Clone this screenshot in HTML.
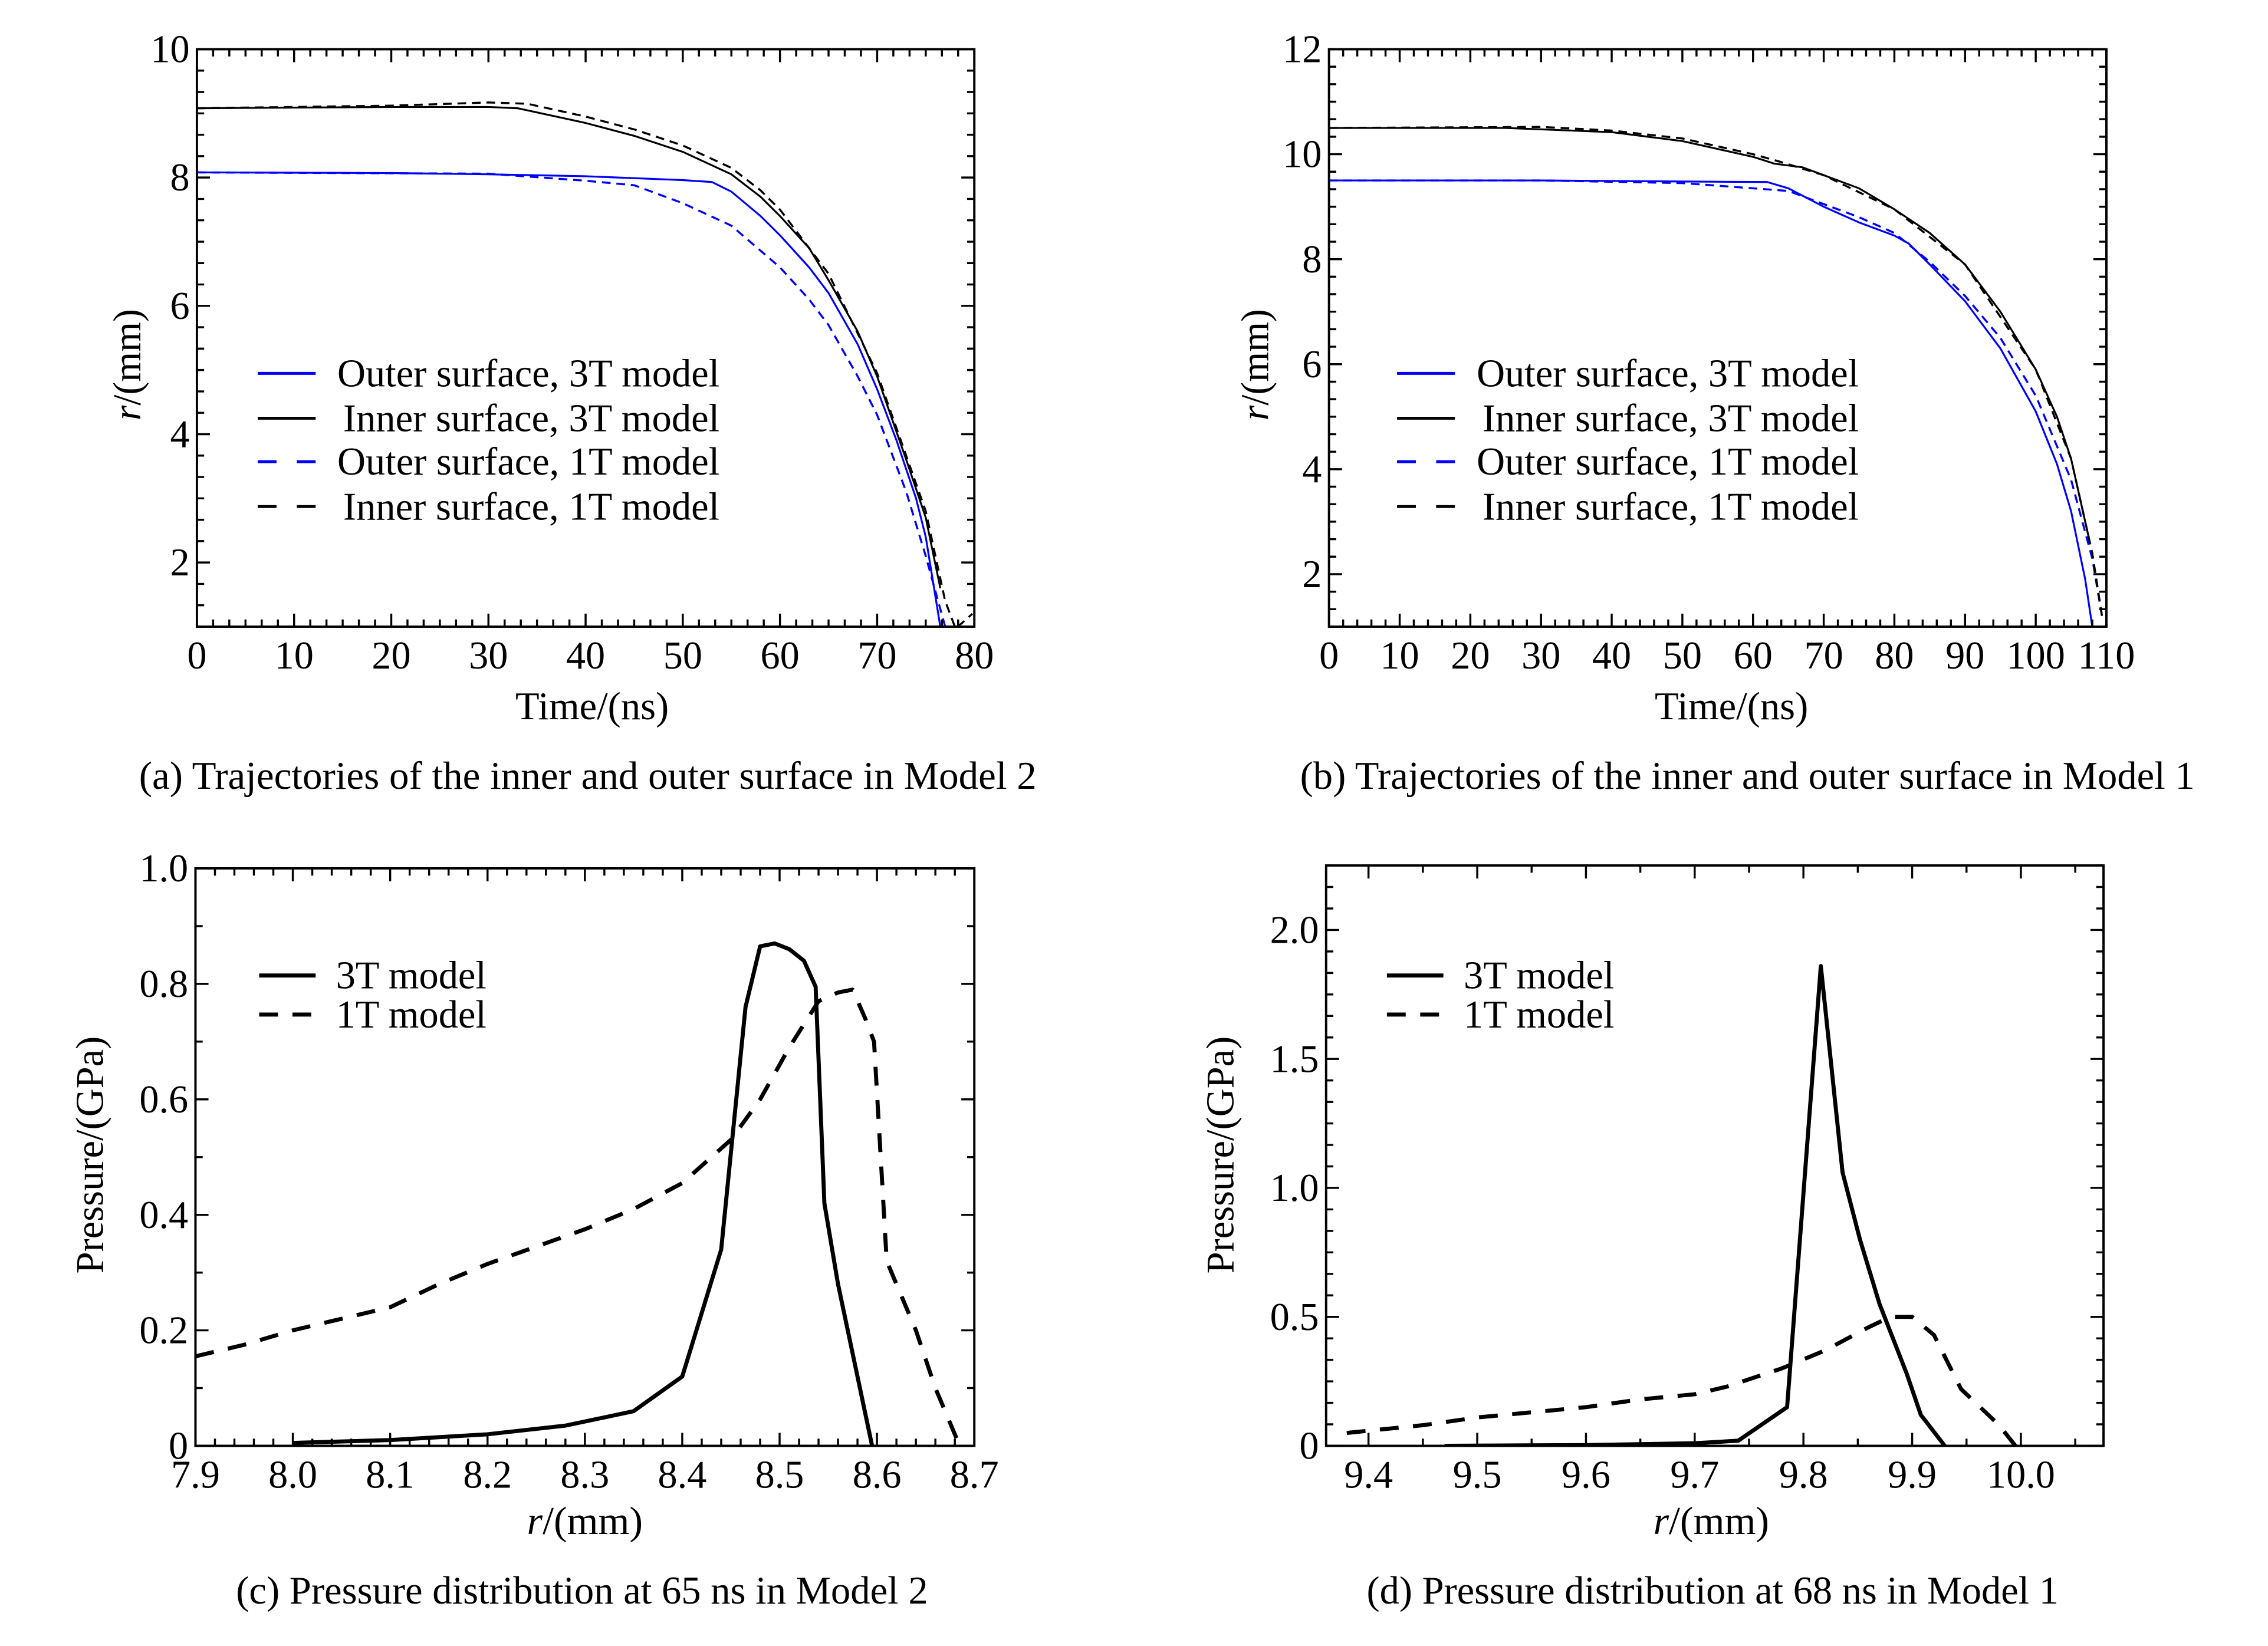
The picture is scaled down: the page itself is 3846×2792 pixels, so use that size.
<!DOCTYPE html>
<html><head><meta charset="utf-8"><style>
html,body{margin:0;padding:0;background:#fff;}
svg{display:block;}
text{font-family:"Liberation Serif","DejaVu Serif",serif;fill:#000;}
</style></head><body>
<svg id="fig" xmlns="http://www.w3.org/2000/svg" width="3846" height="2792" viewBox="0 0 1566.6 1137.3" font-family="Liberation Serif, DejaVu Serif, serif">
<rect x="0" y="0" width="1566.6" height="1137.3" fill="#fff"/>
</svg>
<script>
// ---- Panel (a) data: Model 2 trajectories ----
const aOuter3T_t = [0,20,30,40,50,53,55,58,60,63,65,68,70,72,74,75,76.5];
const aOuter3T_r = [8.08,8.07,8.05,8.02,7.96,7.93,7.78,7.4,7.1,6.6,6.2,5.4,4.7,3.9,3.0,2.4,1.0];
const aInner3T_t = [0,20,30,33,40,45,50,55,58,60,63,65,68,70,73,75,76.5];
const aInner3T_r = [9.08,9.1,9.1,9.08,8.85,8.65,8.4,8.05,7.7,7.4,6.9,6.4,5.6,4.9,3.6,2.7,1.6];
const aOuter1T_t = [0,30,40,45,50,55,60,63,65,68,70,73,75,77];
const aOuter1T_r = [8.08,8.06,7.95,7.88,7.6,7.25,6.6,6.1,5.7,4.9,4.3,3.1,2.1,1.0];
const aInner1T_t = [0,20,30,34,40,45,50,55,58,60,65,70,75,77,78];
const aInner1T_r = [9.08,9.12,9.17,9.15,8.95,8.75,8.5,8.15,7.8,7.5,6.5,4.95,2.8,1.4,1.0];
const aTail_t = [78.3,79.8];
const aTail_r = [1.0,1.2];
const aXTicks = [0,10,20,30,40,50,60,70,80];
const aYTicks = [2,4,6,8,10];

// ---- Panel (b) data: Model 1 trajectories ----
const bOuter3T_t = [0,30,50,62,65,70,75,80,82,85,90,95,100,103,105,107,108];
const bOuter3T_r = [9.5,9.5,9.48,9.47,9.35,9.0,8.7,8.45,8.3,7.9,7.2,6.3,5.1,4.1,3.2,1.9,1.0];
const bInner3T_t = [0,25,40,50,60,63,67,70,75,80,85,90,95,100,103,105,107.5];
const bInner3T_r = [10.5,10.5,10.42,10.25,9.95,9.82,9.75,9.6,9.35,8.95,8.5,7.9,7.0,5.9,5.0,4.2,2.7];
const bOuter1T_t = [0,30,50,60,65,70,75,80,85,90,95,100,105,108,109.5];
const bOuter1T_r = [9.5,9.5,9.45,9.35,9.3,9.05,8.8,8.5,7.95,7.3,6.5,5.4,3.8,2.3,1.1];
const bInner1T_t = [0,30,40,50,60,64,70,80,90,100,105,108,109.5];
const bInner1T_r = [10.5,10.52,10.45,10.3,10.0,9.85,9.6,8.95,7.9,5.9,4.2,2.4,1.1];
const bXTicks = [0,10,20,30,40,50,60,70,80,90,100,110];
const bYTicks = [2,4,6,8,10,12];

// ---- Panel (c) data: pressure at 65 ns, Model 2 ----
const c3T_r = [8.0,8.1,8.2,8.28,8.35,8.4,8.44,8.465,8.48,8.495,8.51,8.525,8.537,8.546,8.56,8.595];
const c3T_p = [0.005,0.01,0.02,0.035,0.06,0.12,0.34,0.76,0.865,0.87,0.86,0.84,0.795,0.42,0.28,0.0];
const c1T_r = [7.9,7.95,8.0,8.05,8.1,8.15,8.2,8.25,8.3,8.35,8.4,8.45,8.48,8.51,8.54,8.56,8.575,8.588,8.597,8.61,8.64,8.66,8.685];
const c1T_p = [0.155,0.175,0.2,0.22,0.24,0.28,0.315,0.345,0.375,0.41,0.455,0.53,0.6,0.69,0.77,0.785,0.79,0.74,0.7,0.32,0.2,0.1,0.0];
const cXTicks = [7.9,8.0,8.1,8.2,8.3,8.4,8.5,8.6,8.7];
const cXLabels = ["7.9","8.0","8.1","8.2","8.3","8.4","8.5","8.6","8.7"];
const cYTicks = [0,0.2,0.4,0.6,0.8,1.0];
const cYLabels = ["0","0.2","0.4","0.6","0.8","1.0"];

// ---- Panel (d) data: pressure at 68 ns, Model 1 ----
const d3T_r = [9.47,9.6,9.7,9.74,9.785,9.816,9.836,9.852,9.87,9.895,9.908,9.93];
const d3T_p = [0.0,0.003,0.01,0.02,0.15,1.86,1.06,0.8,0.55,0.28,0.12,0.0];
const d1T_r = [9.38,9.45,9.5,9.55,9.6,9.65,9.7,9.73,9.78,9.82,9.86,9.88,9.9,9.92,9.945,9.98,9.995];
const d1T_p = [0.05,0.08,0.11,0.13,0.15,0.18,0.2,0.23,0.3,0.37,0.46,0.5,0.5,0.43,0.22,0.08,0.0];
const dXTicks = [9.4,9.5,9.6,9.7,9.8,9.9,10.0];
const dXLabels = ["9.4","9.5","9.6","9.7","9.8","9.9","10.0"];
const dYTicks = [0,0.5,1.0,1.5,2.0];
const dYLabels = ["0","0.5","1.0","1.5","2.0"];

const NS = "http://www.w3.org/2000/svg";
const svg = document.getElementById('fig');
const SERIF = 'Liberation Serif, DejaVu Serif, serif';
function mk(tag, attrs, parent){
  const e = document.createElementNS(NS, tag);
  for (const k in attrs) e.setAttribute(k, attrs[k]);
  if (tag === 'text') e.setAttribute('font-family', SERIF);
  (parent||svg).appendChild(e);
  return e;
}
function makeAxis(L,R,T,B,x0,x1,y0,y1){
  return {L,R,T,B,
    sx: v => L + (v-x0)/(x1-x0)*(R-L),
    sy: v => B - (v-y0)/(y1-y0)*(B-T), x0,x1,y0,y1};
}
function drawFrame(g, ax, xt, xl, yt, yl, xsub, ysub){
  const fr = mk('rect',{x:ax.L,y:ax.T,width:ax.R-ax.L,height:ax.B-ax.T,fill:'none',stroke:'#000','stroke-width':1.6},g);
  
  
  let d = '';
  const xstep = xt[1]-xt[0], ystep = yt[1]-yt[0];
  for (let i=-xsub*2;i<=xt.length*xsub+xsub*2;i++){
    const v = xt[0] + i*xstep/xsub;
    if (v < ax.x0-1e-9 || v > ax.x1+1e-9) continue;
    const len = (i%xsub===0)?9:5;
    const X = ax.sx(v);
    d += `M${X} ${ax.B}v${-len}M${X} ${ax.T}v${len}`;
  }
  for (let i=-ysub*2;i<=yt.length*ysub+ysub*2;i++){
    const v = yt[0] + i*ystep/ysub;
    if (v < ax.y0-1e-9 || v > ax.y1+1e-9) continue;
    const len = (i%ysub===0)?9:5;
    const Y = ax.sy(v);
    d += `M${ax.L} ${Y}h${len}M${ax.R} ${Y}h${-len}`;
  }
  const tk = mk('path',{d:d,stroke:'#000','stroke-width':1.4,fill:'none'},g);
  
  
  xt.forEach((v,i)=>{
    const t = mk('text',{x:ax.sx(v),y:ax.B+29,'font-size':27,'text-anchor':'middle'},g);
    
    
    t.textContent = xl[i];
  });
  yt.forEach((v,i)=>{
    const t = mk('text',{x:ax.L-5,y:ax.sy(v)+9,'font-size':27,'text-anchor':'end'},g);
    
    
    t.textContent = yl[i];
  });
}
function line(g, ax, xs, ys, color, w, dash, name){
  const pts = xs.map((x,i)=>ax.sx(x).toFixed(2)+','+ax.sy(ys[i]).toFixed(2)).join(' ');
  const p = mk('polyline',{points:pts,fill:'none',stroke:color,'stroke-width':w,'stroke-linejoin':'round'},g);
  if (dash) p.setAttribute('stroke-dasharray',dash);
  
  
  return p;
}
function clipFor(ax,id){
  const defs = mk('defs',{});
  const cp = mk('clipPath',{id:id},defs);
  mk('rect',{x:ax.L,y:ax.T,width:ax.R-ax.L,height:ax.B-ax.T},cp);
}
function txt(g, x, y, s, size, anchor, len, name, rot){
  const t = mk('text',{x:x,y:y,'font-size':size,'text-anchor':anchor||'start'},g);
  if (len){ t.setAttribute('textLength',len); t.setAttribute('lengthAdjust','spacingAndGlyphs'); }
  if (rot) t.setAttribute('transform',`rotate(-90 ${x} ${y})`);
  
  
  t.textContent = s;
  return t;
}
function rLabel(g, x, y, len, name, rot){
  const t = mk('text',{x:x,y:y,'font-size':27,'text-anchor':'middle',textLength:len,lengthAdjust:'spacingAndGlyphs'},g);
  if (rot) t.setAttribute('transform',`rotate(-90 ${x} ${y})`);
  
  
  const s1 = mk('tspan',{'font-style':'italic'},t); s1.textContent='r';
  const s2 = mk('tspan',{},t); s2.textContent='/(mm)';
}
function legendEntry(g, x1, x2, y, color, w, dash, label, tx, anchor, len){
  const ln = mk('line',{x1:x1,x2:x2,y1:y,y2:y,stroke:color,'stroke-width':w},g);
  if (dash) ln.setAttribute('stroke-dasharray',dash);
  
  
  txt(g, tx, y+9, label, 27, anchor, len, 'legend-label');
}

// ===== Panel (a) =====
(function(){
  const g = mk('g',{});  
  const ax = makeAxis(136,673,34,433,0,80,1,10);
  clipFor(ax,'ca');
  const cg = mk('g',{'clip-path':'url(#ca)'},g);
  line(cg,ax,aOuter1T_t,aOuter1T_r,'#0000ff',1.4,'6 4','series-outer-1t');
  line(cg,ax,aInner1T_t,aInner1T_r,'#000',1.4,'6 4','series-inner-1t');
  line(cg,ax,aTail_t,aTail_r,'#000',1.4,'6 4','series-inner-1t-tail');
  line(cg,ax,aOuter3T_t,aOuter3T_r,'#0000ff',1.3,null,'series-outer-3t');
  line(cg,ax,aInner3T_t,aInner3T_r,'#000',1.3,null,'series-inner-3t');
  drawFrame(g,ax,aXTicks,aXTicks.map(String),aYTicks,aYTicks.map(String),6,6);
  legendEntry(g,178,218,258,'#0000ff',2,null,'Outer surface, 3T model',497,'end',264);
  legendEntry(g,178,218,289,'#000',2,null,'Inner surface, 3T model',497,'end',260);
  legendEntry(g,178,218,319,'#0000ff',2,'13 14','Outer surface, 1T model',497,'end',264);
  legendEntry(g,178,218,350,'#000',2,'13 14','Inner surface, 1T model',497,'end',260);
  txt(g,409,497,'Time/(ns)',27,'middle',106,'x-axis-title');
  rLabel(g,97,252,77,'y-axis-title',true);
  txt(g,406,545,'(a) Trajectories of the inner and outer surface in Model 2',27,'middle',620,'caption-a');
})();

// ===== Panel (b) =====
(function(){
  const g = mk('g',{});  
  const ax = makeAxis(918,1455,34,433,0,110,1,12);
  clipFor(ax,'cb');
  const cg = mk('g',{'clip-path':'url(#cb)'},g);
  line(cg,ax,bOuter1T_t,bOuter1T_r,'#0000ff',1.4,'6 4','series-outer-1t');
  line(cg,ax,bInner1T_t,bInner1T_r,'#000',1.4,'6 4','series-inner-1t');
  line(cg,ax,bOuter3T_t,bOuter3T_r,'#0000ff',1.3,null,'series-outer-3t');
  line(cg,ax,bInner3T_t,bInner3T_r,'#000',1.3,null,'series-inner-3t');
  drawFrame(g,ax,bXTicks,bXTicks.map(String),bYTicks,bYTicks.map(String),5,6);
  legendEntry(g,965,1005,258,'#0000ff',2,null,'Outer surface, 3T model',1284,'end',264);
  legendEntry(g,965,1005,289,'#000',2,null,'Inner surface, 3T model',1284,'end',260);
  legendEntry(g,965,1005,319,'#0000ff',2,'13 14','Outer surface, 1T model',1284,'end',264);
  legendEntry(g,965,1005,350,'#000',2,'13 14','Inner surface, 1T model',1284,'end',260);
  txt(g,1196,497,'Time/(ns)',27,'middle',106,'x-axis-title');
  rLabel(g,876,252,77,'y-axis-title',true);
  txt(g,1207,545,'(b) Trajectories of the inner and outer surface in Model 1',27,'middle',618,'caption-b');
})();

// ===== Panel (c) =====
(function(){
  const g = mk('g',{});  
  const ax = makeAxis(135,673,600,999,7.9,8.7,0,1.0);
  clipFor(ax,'cc');
  const cg = mk('g',{'clip-path':'url(#cc)'},g);
  line(cg,ax,c1T_r,c1T_p,'#000',2.8,'13 10','series-1t');
  line(cg,ax,c3T_r,c3T_p,'#000',2.8,null,'series-3t');
  drawFrame(g,ax,cXTicks,cXLabels,cYTicks,cYLabels,5,2);
  legendEntry(g,179,218,674,'#000',2.8,null,'3T model',232,'start',104);
  legendEntry(g,179,218,701,'#000',2.8,'13 10','1T model',232,'start',104);
  rLabel(g,404,1060,80,'x-axis-title',false);
  txt(g,71,798,'Pressure/(GPa)',27,'middle',164,'y-axis-title',true);
  txt(g,402,1108,'(c) Pressure distribution at 65 ns in Model 2',27,'middle',478,'caption-c');
})();

// ===== Panel (d) =====
(function(){
  const g = mk('g',{});  
  const ax = makeAxis(916,1453,598,999,9.361,10.076,0,2.25);
  clipFor(ax,'cd');
  const cg = mk('g',{'clip-path':'url(#cd)'},g);
  line(cg,ax,d1T_r,d1T_p,'#000',2.8,'13 10','series-1t');
  line(cg,ax,d3T_r,d3T_p,'#000',2.8,null,'series-3t');
  drawFrame(g,ax,dXTicks,dXLabels,dYTicks,dYLabels,2,6);
  legendEntry(g,958,997,674,'#000',2.8,null,'3T model',1011,'start',104);
  legendEntry(g,958,997,701,'#000',2.8,'13 10','1T model',1011,'start',104);
  rLabel(g,1182,1060,80,'x-axis-title',false);
  txt(g,852,798,'Pressure/(GPa)',27,'middle',164,'y-axis-title',true);
  txt(g,1183,1108,'(d) Pressure distribution at 68 ns in Model 1',27,'middle',478,'caption-d');
})();
</script>
</body></html>
